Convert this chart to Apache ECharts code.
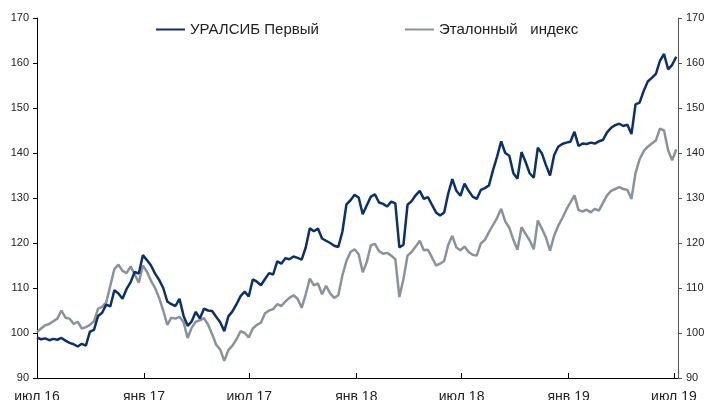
<!DOCTYPE html>
<html>
<head>
<meta charset="utf-8">
<script src="https://cdn.jsdelivr.net/npm/echarts@6/dist/echarts.min.js"></script>
<style>
  html, body { margin: 0; padding: 0; background: #fff; }
  #chart { width: 704px; height: 400px; }
</style>
</head>
<body>
<div id="chart"></div>
<script>
// weekly points from 1 Jul 2016
const startDate = [2016, 6, 1]
const stepDays = 7

const seriesNames = ['УРАЛСИБ Первый', 'Эталонный   индекс']

const uralsib = [
  99.0, 98.6, 98.8, 98.4, 98.7, 98.5, 98.9, 98.3, 97.8, 97.5,
  97.0, 97.6, 97.2, 100.3, 100.7, 103.8, 104.5, 106.3, 105.9, 109.5,
  108.8, 107.6, 109.8, 111.3, 113.6, 113.2, 117.3, 116.2, 115.0, 113.2,
  111.8, 110.0, 107.0, 106.4, 106.0, 107.6, 103.8, 101.6, 102.6, 104.7,
  103.2, 105.4, 105.0, 104.9, 103.6, 102.4, 100.4, 103.7, 104.8, 106.4,
  108.2, 109.2, 108.1, 111.9, 111.4, 110.6, 112.0, 113.3, 113.0, 115.9,
  115.4, 116.6, 116.4, 117.0, 116.7, 116.3, 119.0, 123.3, 122.6, 123.2,
  121.0, 120.5, 120.0, 119.4, 119.1, 122.5, 128.6, 129.5, 130.7, 130.1,
  126.4, 128.4, 130.3, 130.8, 129.0, 128.7, 128.1, 129.2, 128.8, 119.0,
  119.6, 128.5, 129.3, 130.6, 131.6, 129.8, 130.2, 128.5, 126.8, 126.1,
  126.8, 131.0, 134.2, 131.6, 130.5, 133.2, 131.6, 130.3, 129.8, 131.8,
  132.2, 132.8, 136.2, 139.2, 142.6, 140.0, 139.4, 135.5, 134.3, 140.2,
  138.0, 135.5, 134.5, 141.2, 139.9, 137.3, 135.0, 139.5, 141.4, 142.0,
  142.3, 142.5, 144.7, 141.6, 142.1, 142.0, 142.3, 142.1, 142.6, 142.9,
  144.6, 145.6, 146.2, 146.5, 146.0, 146.3, 144.2, 150.8, 151.2, 153.8,
  155.9, 156.7, 157.6, 160.5, 162.0, 158.6, 159.6, 161.4
]

const benchmark = [
  100.2, 101.0, 101.7, 102.0, 102.6, 103.2, 105.0, 103.4, 103.2, 102.0,
  102.5, 101.0, 101.3, 101.8, 102.6, 105.4, 105.8, 106.8, 110.5, 114.2,
  115.2, 113.8, 113.3, 114.8, 113.0, 111.2, 115.0, 113.6, 111.6, 110.0,
  107.8, 105.0, 101.8, 103.4, 103.2, 103.6, 102.4, 98.9, 101.2, 102.5,
  102.8, 103.3, 101.9, 99.8, 97.4, 96.3, 93.8, 96.2, 97.2, 98.6,
  100.4, 100.0, 99.0, 101.0, 101.8, 102.3, 104.4, 105.0, 105.3, 106.4,
  106.0, 107.0, 107.8, 108.4, 107.6, 105.6, 108.6, 112.1, 110.6, 111.0,
  108.6, 110.5, 108.8, 107.8, 108.4, 112.8, 116.0, 118.0, 118.6, 117.5,
  113.5, 115.8, 119.5, 119.8, 118.2, 117.6, 117.8, 117.2, 116.4, 108.0,
  112.0, 117.2, 118.0, 119.2, 120.5, 118.4, 118.5, 116.8, 115.0, 115.4,
  116.0, 119.6, 121.6, 119.0, 118.4, 119.2, 118.0, 117.4, 117.2, 119.9,
  120.7, 122.4, 124.0, 125.6, 127.6, 124.8, 123.4, 120.7, 118.5, 123.5,
  122.0, 120.6, 118.6, 125.0, 123.2, 121.2, 118.3, 121.6, 123.8, 125.5,
  127.4, 129.0, 130.6, 127.3, 127.0, 127.4, 126.8, 127.6, 127.2, 128.9,
  130.6, 131.6, 132.0, 132.4, 132.0, 131.8, 129.8, 135.6, 138.6, 140.4,
  141.4, 142.1, 142.8, 145.4, 145.0, 140.6, 138.4, 140.8
]

const monthNames = ['янв', 'фев', 'мар', 'апр', 'май', 'июн', 'июл', 'авг', 'сен', 'окт', 'ноя', 'дек']
const axisMin = new Date(2016, 6, 1).getTime()
const axisMax = new Date(2019, 6, 8).getTime()

const toPairs = (values) => values.map((v, i) => [
  new Date(startDate[0], startDate[1], startDate[2] + i * stepDays).getTime(), v
])

const font = 'Liberation Sans, Arial, sans-serif'
const halfYear = 182.5 * 24 * 3600 * 1000

const option = {
  animation: false,
  textStyle: { fontFamily: font },
  legend: {
    left: 151,
    top: 17,
    icon: 'rect',
    itemWidth: 29,
    itemHeight: 2,
    itemGap: 86,
    textStyle: { fontSize: 15, color: '#222', fontFamily: font },
    data: seriesNames
  },
  grid: { left: 37, right: 26, top: 18, bottom: 22, containLabel: false, outerBoundsMode: 'none' },
  xAxis: {
    type: 'time',
    min: axisMin,
    max: axisMax,
    minInterval: halfYear,
    maxInterval: halfYear,
    axisLine: { lineStyle: { color: '#000', width: 1 } },
    axisTick: { inside: true, length: 5, lineStyle: { color: '#000' } },
    axisLabel: {
      fontSize: 14,
      color: '#222',
      margin: 12,
      showMaxLabel: false,
      formatter: (val) => {
        const d = new Date(val)
        return monthNames[d.getMonth()] + ' ' + String(d.getFullYear()).slice(2)
      }
    },
    splitLine: { show: false }
  },
  yAxis: [
    {
      type: 'value', min: 90, max: 170, interval: 10, position: 'left',
      axisLine: { show: true, lineStyle: { color: '#000' } },
      axisTick: { show: true, length: 4, lineStyle: { color: '#000' } },
      axisLabel: { fontSize: 11, color: '#222', margin: 8 },
      splitLine: { show: false }
    },
    {
      type: 'value', min: 90, max: 170, interval: 10, position: 'right',
      axisLine: { show: true, lineStyle: { color: '#555' } },
      axisTick: { show: true, length: 4, lineStyle: { color: '#555' } },
      axisLabel: { fontSize: 11, color: '#222', margin: 8 },
      splitLine: { show: false }
    }
  ],
  series: [
    {
      name: seriesNames[1], type: 'line', yAxisIndex: 0, symbol: 'none',
      data: toPairs(benchmark),
      lineStyle: { color: '#8a929c', width: 2.5 },
      itemStyle: { color: '#8a929c' }
    },
    {
      name: seriesNames[0], type: 'line', yAxisIndex: 0, symbol: 'none',
      data: toPairs(uralsib),
      lineStyle: { color: '#0a306e', width: 2.5 },
      itemStyle: { color: '#0a306e' }
    }
  ]
}

const chart = echarts.init(document.getElementById('chart'))
chart.setOption(option)
</script>
</body>
</html>
